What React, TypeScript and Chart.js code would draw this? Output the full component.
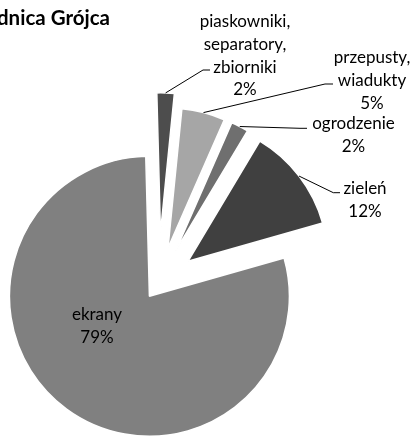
import { useEffect, useRef } from "react";
import { Chart, registerables } from "chart.js";

Chart.register(...registerables);

// ---- data ----
const title = "Obwodnica Grójca";
const categories = [
  "piaskowniki, separatory, zbiorniki",
  "przepusty, wiadukty",
  "ogrodzenie",
  "zieleń",
  "ekrany",
];
const labelLines = [
  ["piaskowniki,", "separatory,", "zbiorniki"],
  ["przepusty,", "wiadukty"],
  ["ogrodzenie"],
  ["zieleń"],
  ["ekrany"],
];
const shares = [2, 5, 2, 12, 79];

// ---- styles / layout ----
const colors = ["#4d4d4d", "#a6a6a6", "#6f6f6f", "#404040", "#808080"];
const explodePx = [51, 37, 37, 37, 15.5];
const W = 412;
const H = 436;
const centerX = 158.6;
const centerY = 283.8;
const pieRadius = 140;
const FONT = "Lato, 'Open Sans', sans-serif";
const labelFontPx = 17;
const titleFontPx = 20.5;
const linePitch = 22.8;
// label text anchor (center x, first baseline) and leader line (elbow, end)
const labelLayout = [
  { cx: 245, y0: 27, elbow: [203, 70], end: [210, 70] },
  { cx: 372, y0: 63, elbow: [325, 84], end: [333, 84] },
  { cx: 353.5, y0: 129, elbow: [300, 128.3], end: [307, 128.3] },
  { cx: 365, y0: 194, elbow: [333.3, 192.7], end: [340, 192.7] },
  { cx: 97, y0: 320, elbow: null, end: null },
];

const explodePlugin = {
  id: "explodeSlices",
  afterDatasetUpdate(_chart: any, args: any) {
    args.meta.data.forEach((arc: any, i: number) => {
      const mid = (arc.startAngle + arc.endAngle) / 2;
      const d = explodePx[i] || 0;
      arc.x += Math.cos(mid) * d;
      arc.y += Math.sin(mid) * d;
    });
  },
};

const labelPlugin = {
  id: "sliceLabels",
  afterDatasetsDraw(chart: any) {
    const ctx: CanvasRenderingContext2D = chart.ctx;
    const arcs = chart.getDatasetMeta(0).data;
    const total = shares.reduce((a, b) => a + b, 0);
    ctx.save();
    ctx.strokeStyle = "#000";
    ctx.lineWidth = 1;
    labelLayout.forEach((L, i) => {
      if (!L.elbow || !L.end) return;
      const a: any = arcs[i];
      const mid = (a.startAngle + a.endAngle) / 2;
      const sx = a.x + Math.cos(mid) * a.outerRadius;
      const sy = a.y + Math.sin(mid) * a.outerRadius;
      ctx.beginPath();
      ctx.moveTo(sx, sy);
      ctx.lineTo(L.elbow[0], L.elbow[1]);
      ctx.lineTo(L.end[0], L.end[1]);
      ctx.stroke();
    });
    ctx.fillStyle = "#000";
    ctx.textAlign = "center";
    ctx.textBaseline = "alphabetic";
    ctx.font = `${labelFontPx}px ${FONT}`;
    labelLayout.forEach((L, i) => {
      const lines = [...labelLines[i], `${Math.round((shares[i] / total) * 100)}%`];
      lines.forEach((t, k) => ctx.fillText(t, L.cx, L.y0 + k * linePitch));
    });
    ctx.font = `bold ${titleFontPx}px ${FONT}`;
    ctx.textAlign = "right";
    ctx.fillText(title, 110, 24.5);
    ctx.restore();
  },
};

export default function App() {
  const ref = useRef<HTMLCanvasElement | null>(null);
  useEffect(() => {
    if (!ref.current) return;
    const chart = new Chart(ref.current, {
      type: "pie",
      data: {
        labels: categories,
        datasets: [
          {
            data: shares,
            backgroundColor: colors,
            borderColor: "#ffffff",
            borderWidth: 1.5,
            clip: false,
          } as any,
        ],
      },
      options: {
        responsive: false,
        animation: false,
        rotation: -1.5,
        radius: pieRadius,
        layout: {
          padding: {
            left: 0,
            right: W - 2 * centerX,
            top: 2 * centerY - H,
            bottom: 0,
          },
        },
        plugins: {
          legend: { display: false },
          title: { display: false },
          tooltip: { enabled: false },
        },
      } as any,
      plugins: [explodePlugin, labelPlugin],
    });
    return () => chart.destroy();
  }, []);
  return (
    <div style={{ position: "absolute", left: 0, top: 0, width: W, height: H, background: "#fff" }}>
      <canvas ref={ref} width={W} height={H} style={{ display: "block" }} />
    </div>
  );
}
